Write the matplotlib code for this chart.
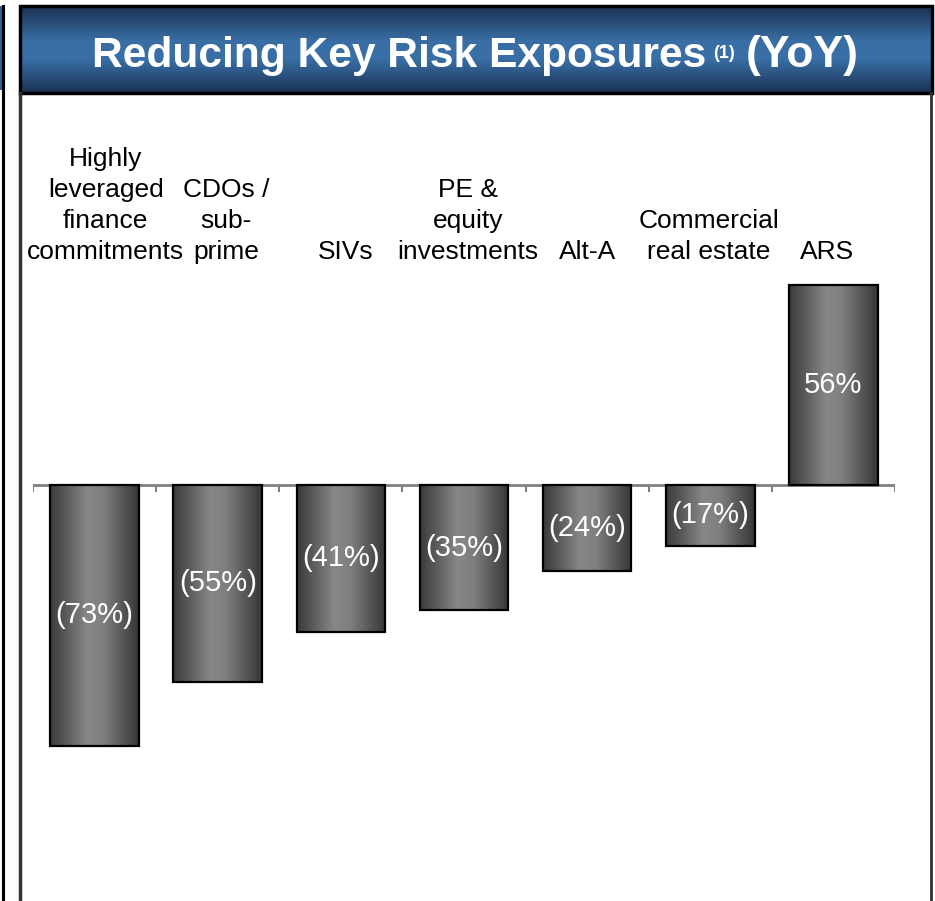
import numpy as np
import matplotlib
matplotlib.use("Agg")
import matplotlib.pyplot as plt
from matplotlib.colors import LinearSegmentedColormap
from matplotlib.patches import Rectangle
from matplotlib.lines import Line2D
import matplotlib.transforms as mtransforms

# ---------------- data ----------------
categories = ["Highly\nleveraged\nfinance\ncommitments", "CDOs /\nsub-\nprime", "SIVs",
              "PE &\nequity\ninvestments", "Alt-A", "Commercial\nreal estate", "ARS"]
changes = [-73, -55, -41, -35, -24, -17, 56]
value_labels = ["(73%)", "(55%)", "(41%)", "(35%)", "(24%)", "(17%)", "56%"]
title_main = "Reducing Key Risk Exposures"
title_sup = "(1)"
title_tail = "(YoY)"

# layout tweak: small horizontal shifts of category labels (category units)
label_dx = [0.09, 0.07, 0.04, 0.03, 0.0, -0.01, -0.05]

plt.rcParams["font.family"] = ["Liberation Sans", "DejaVu Sans"]

W, H = 935, 901
fig = plt.figure(figsize=(W / 100, H / 100), dpi=100)
fig.patch.set_facecolor("white")


def fx(px):
    return px / W


def fy(py):
    return 1 - py / H


# ---------------- main axes ----------------
x0, x1 = 33, 895
zero_y, ppu = 485, 3.575
top_y, bot_y = 110, 901
ax = fig.add_axes([fx(x0), fy(bot_y), (x1 - x0) / W, (bot_y - top_y) / H])
ax.axis("off")
n = len(categories)
xs = np.arange(n)

bars = ax.bar(xs, changes, width=0.72, facecolor="none", edgecolor="black",
              linewidth=1.6, zorder=3)
grad_cmap = LinearSegmentedColormap.from_list(
    "g", [(0, "#3a3a3a"), (0.42, "#878787"), (0.6, "#7f7f7f"), (1, "#363636")])
grad = np.linspace(0, 1, 256)[None, :]
for b in bars:
    bx, by = b.get_x(), b.get_y()
    bw, bh = b.get_width(), b.get_height()
    im = ax.imshow(grad, cmap=grad_cmap, extent=[bx, bx + bw, min(by, by + bh), max(by, by + bh)],
                   aspect="auto", zorder=2, interpolation="bilinear")
    im.set_clip_path(b)

ax.set_xlim(-0.5, n - 0.5)
ax.set_ylim(-(bot_y - zero_y) / ppu, (zero_y - top_y) / ppu)

ax.axhline(0, color="#808080", lw=2, zorder=1)
ax.vlines(np.arange(n + 1) - 0.5, 0, -7 / ppu, color="#808080", lw=1.5, zorder=1)

for x, v, lab in zip(xs, changes, value_labels):
    ax.text(x, v / 2, lab, ha="center", va="center", color="white", fontsize=21, zorder=4)

trans = mtransforms.blended_transform_factory(ax.transData, fig.transFigure)
for x, cat, dx in zip(xs, categories, label_dx):
    ax.text(x + dx, fy(264), cat, transform=trans, ha="center", va="bottom",
            multialignment="center", fontsize=19, linespacing=1.36, color="black")

# ---------------- banner ----------------
bax = fig.add_axes([fx(20), fy(93), fx(932) - fx(20), (93 - 6) / H])
bax.axis("off")
banner_cmap = LinearSegmentedColormap.from_list(
    "b", [(0, "#1a3253"), (0.4, "#3a70a8"), (0.6, "#396ea4"), (1, "#1a3150")])
vgrad = np.linspace(0, 1, 256)[:, None]
bax.imshow(vgrad, cmap=banner_cmap, extent=[0, 1, 0, 1], aspect="auto", interpolation="bilinear")
bax.set_xlim(0, 1)
bax.set_ylim(1, 0)
bax.add_patch(Rectangle((0, 0), 1, 1, transform=bax.transAxes, fill=False,
                        edgecolor="black", lw=2.5, clip_on=False))

t1 = fig.text(fx(92), fy(67), title_main, fontsize=30.6, fontweight="bold", color="white",
              ha="left", va="baseline")
renderer = fig.canvas.get_renderer()
bb = t1.get_window_extent(renderer)
t2 = fig.text((bb.x1 + 7) / W, fy(58), title_sup, fontsize=13, fontweight="bold",
              color="white", ha="left", va="baseline")
bb2 = t2.get_window_extent(renderer)
fig.text((bb2.x1 + 11) / W, fy(67), title_tail, fontsize=32, fontweight="bold",
         color="white", ha="left", va="baseline")

# ---------------- frame lines ----------------
fig.add_artist(Line2D([fx(20), fx(20)], [fy(93), 0], transform=fig.transFigure,
                      color="#333333", lw=2.5))
fig.add_artist(Line2D([fx(931), fx(931)], [fy(93), 0], transform=fig.transFigure,
                      color="#333333", lw=2.0))
# neighbouring slide panel sliver
fig.add_artist(Rectangle((0, fy(90)), fx(3), (90 - 6) / H, transform=fig.transFigure,
                         facecolor="#2f5f92", edgecolor="none"))
fig.add_artist(Line2D([fx(3), fx(3)], [fy(6), 0], transform=fig.transFigure,
                      color="black", lw=2.2))

fig.savefig("out.png", dpi=100, facecolor="white")
